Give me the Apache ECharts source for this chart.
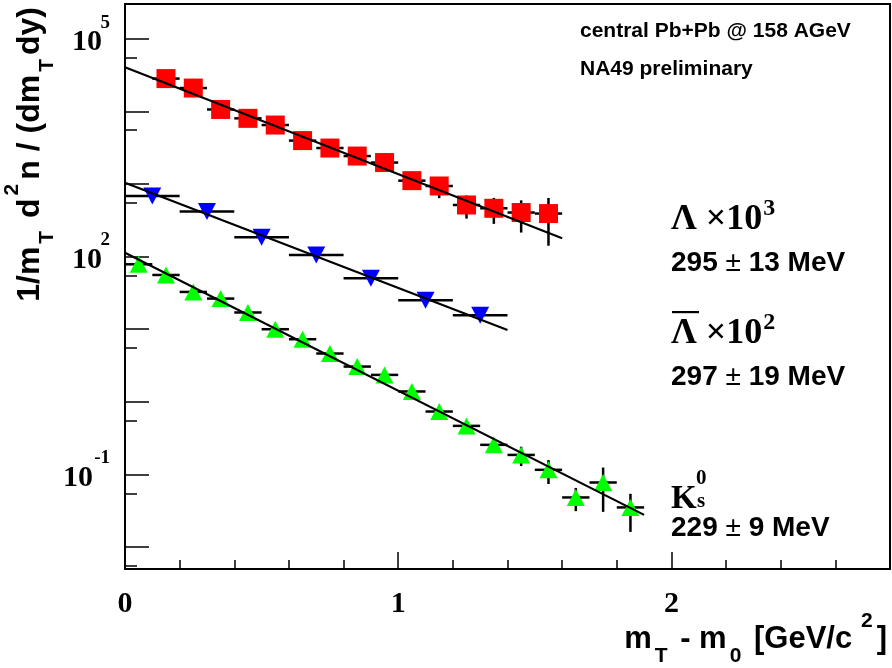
<!DOCTYPE html>
<html>
<head>
<meta charset="utf-8">
<title>NA49 strange particle m_T spectra</title>
<script src="https://cdn.jsdelivr.net/npm/echarts@6.0.0/dist/echarts.min.js"></script>
<style>
  html, body { margin: 0; padding: 0; background: #fff; }
  #chart { width: 892px; height: 668px; }
</style>
</head>
<body>
<div id="chart"></div>
<script>
// m_T - m_0 bin centres [GeV/c^2] and yields
const lambdaX = [0.15, 0.25, 0.35, 0.45, 0.55, 0.65, 0.75, 0.85, 0.95, 1.05, 1.15, 1.25, 1.35, 1.45, 1.55];
const lambdaY = [28200, 20900, 10600, 8000, 6470, 3950, 3120, 2420, 1970, 1110, 937, 513, 462, 404, 391];
const lambdaErr = [1000, 800, 450, 350, 300, 200, 180, 160, 150, 200, 300, 180, 180, 190, 250];
const lambdaHalfBin = 0.05;

const antiX = [0.1, 0.3, 0.5, 0.7, 0.9, 1.1, 1.3];
const antiY = [682, 416, 185, 105, 50.3, 25.1, 15.6];
const antiErr = [40, 25, 11, 7, 4, 2.2, 1.6];
const antiHalfBin = 0.1;

const k0X = [0.05, 0.15, 0.25, 0.35, 0.45, 0.55, 0.65, 0.75, 0.85, 0.95, 1.05, 1.15, 1.25, 1.35, 1.45, 1.55, 1.65, 1.75, 1.85];
const k0Y = [78.3, 55.8, 32.6, 26.4, 17.0, 10.0, 7.28, 4.63, 3.06, 2.35, 1.39, 0.736, 0.467, 0.256, 0.186, 0.116, 0.0483, 0.0776, 0.0352];
const k0Err = [3, 2, 1.2, 1, 0.7, 0.45, 0.35, 0.25, 0.18, 0.15, 0.1, 0.07, 0.06, 0.045, 0.055, 0.042, 0.017, 0.047, 0.019];
const k0HalfBin = 0.05;

// exponential fits (straight lines on the log axis): end points
const lambdaFitX = [0, 1.6];
const lambdaFitY = [40500, 179];
const antiFitX = [0, 1.4];
const antiFitY = [1037, 9.75];
const k0FitX = [0, 1.9];
const k0FitY = [112.8, 0.0278];

const xMin = 0, xMax = 2.8;
const yMin = 0.005, yMax = 3e5;

const SANS = '"Liberation Sans", Arial, sans-serif';
const SERIF = '"Liberation Serif", "Times New Roman", serif';

const chart = echarts.init(document.getElementById('chart'));

function points(xs, ys) {
  return xs.map((x, i) => [x, ys[i]]);
}
function bars(xs, ys, errs, half) {
  return xs.map((x, i) => [x, ys[i], half, errs[i]]);
}

// horizontal bin width + vertical stat. error
function renderErr(params, api) {
  const x = api.value(0), y = api.value(1);
  const dx = api.value(2), dy = api.value(3);
  const l = api.coord([x - dx, y]);
  const r = api.coord([x + dx, y]);
  const t = api.coord([x, y + dy]);
  const b = api.coord([x, Math.max(y - dy, yMin)]);
  const style = { stroke: '#000', lineWidth: 2.5 };
  return {
    type: 'group',
    children: [
      { type: 'line', shape: { x1: l[0], y1: l[1], x2: r[0], y2: r[1] }, style: style },
      { type: 'line', shape: { x1: t[0], y1: t[1], x2: b[0], y2: b[1] }, style: style }
    ]
  };
}

// rich styles for titles with sub/superscripts
function titleRich(size) {
  return {
    a: { fontFamily: SANS, fontWeight: 'bold', fontSize: size, lineHeight: 56, fill: '#000', verticalAlign: 'middle' },
    sub: { fontFamily: SANS, fontWeight: 'bold', fontSize: 21, fill: '#000', verticalAlign: 'bottom', padding: [0, 4, 0, 3] },
    sup: { fontFamily: SANS, fontWeight: 'bold', fontSize: 21, fill: '#000', verticalAlign: 'top', padding: [0, 4, 0, 3] }
  };
}
function symbolRich() {
  return {
    g: { fontFamily: SERIF, fontWeight: 'bold', fontSize: 36, lineHeight: 41, fill: '#000', verticalAlign: 'bottom' },
    sup: { fontFamily: SERIF, fontWeight: 'bold', fontSize: 24, fill: '#000', verticalAlign: 'top', padding: [0, 0, 0, 1] }
  };
}
function tempRich() {
  return {
    a: { fontFamily: SANS, fontWeight: 'bold', fontSize: 28, fill: '#000' },
    pm: { fontFamily: SANS, fontWeight: 'normal', fontSize: 28, fill: '#000' }
  };
}

const gridBox = { left: 125, right: 2, top: 4, bottom: 99 };

chart.setOption({
  animation: false,
  backgroundColor: '#fff',
  grid: [
    Object.assign({ show: true, borderColor: '#000', borderWidth: 2 }, gridBox),
    Object.assign({ show: false }, gridBox)
  ],
  xAxis: [
    {
      type: 'value', gridIndex: 0, min: xMin, max: xMax, interval: 0.2,
      axisLine: { lineStyle: { color: '#000', width: 2 } },
      axisTick: { inside: true, length: 9, lineStyle: { color: '#000', width: 1.5 } },
      axisLabel: { show: false },
      splitLine: { show: false }
    },
    {
      // long ticks + labels at integers
      type: 'value', gridIndex: 1, min: xMin, max: xMax, interval: 1,
      axisLine: { show: false },
      axisTick: { inside: true, length: 17, lineStyle: { color: '#000', width: 1.5 } },
      axisLabel: {
        margin: 20, showMaxLabel: false,
        fontFamily: SERIF, fontWeight: 'bold', fontSize: 30, color: '#000'
      },
      splitLine: { show: false }
    }
  ],
  yAxis: [
    {
      type: 'log', gridIndex: 0, min: yMin, max: yMax, logBase: 10,
      axisLine: { lineStyle: { color: '#000', width: 2 } },
      axisTick: { inside: true, length: 24, lineStyle: { color: '#000', width: 1.5 } },
      minorTick: { show: true, splitNumber: 2, length: 12, lineStyle: { color: '#000', width: 1.5 } },
      axisLabel: {
        margin: 15, showMinLabel: false, showMaxLabel: false,
        formatter: function (v) {
          const lg = Math.log10(v);
          const e = Math.round(lg);
          if (Math.abs(lg - e) > 1e-6) return '';
          if (((e % 3) + 3) % 3 !== 2) return '';
          // exponent on its own short line, right-aligned above the base
          return '{s|' + e + '}\n{' + (String(e).length > 1 ? 'c' : 'b') + '|10}';
        },
        rich: {
          s: { fontFamily: SERIF, fontWeight: 'bold', fontSize: 19, lineHeight: 8, color: '#000', align: 'right' },
          b: { fontFamily: SERIF, fontWeight: 'bold', fontSize: 30, lineHeight: 32, color: '#000', align: 'right', padding: [0, 8, 0, 0] },
          c: { fontFamily: SERIF, fontWeight: 'bold', fontSize: 30, lineHeight: 32, color: '#000', align: 'right', padding: [0, 17, 0, 0] }
        }
      },
      splitLine: { show: false }
    },
    { type: 'value', gridIndex: 1, show: false }
  ],
  series: [
    { name: 'Lambda x10^3 errors', type: 'custom', renderItem: renderErr, data: bars(lambdaX, lambdaY, lambdaErr, lambdaHalfBin), z: 2, silent: true },
    { name: 'anti-Lambda x10^2 errors', type: 'custom', renderItem: renderErr, data: bars(antiX, antiY, antiErr, antiHalfBin), z: 2, silent: true },
    { name: 'K0s errors', type: 'custom', renderItem: renderErr, data: bars(k0X, k0Y, k0Err, k0HalfBin), z: 2, silent: true },
    {
      name: 'Lambda x10^3', type: 'scatter', symbol: 'rect', symbolSize: 19,
      itemStyle: { color: '#ff0000', opacity: 1 }, data: points(lambdaX, lambdaY), z: 3
    },
    {
      name: 'anti-Lambda x10^2', type: 'scatter', symbol: 'triangle', symbolRotate: 180, symbolSize: [18, 17],
      itemStyle: { color: '#0000ff', opacity: 1 }, data: points(antiX, antiY), z: 3
    },
    {
      name: 'K0s', type: 'scatter', symbol: 'triangle', symbolSize: [18, 17],
      itemStyle: { color: '#00ff00', opacity: 1 }, data: points(k0X, k0Y), z: 3
    },
    {
      name: 'Lambda fit', type: 'line', data: points(lambdaFitX, lambdaFitY), showSymbol: false,
      lineStyle: { color: '#000', width: 2.2 }, z: 4, silent: true
    },
    {
      name: 'anti-Lambda fit', type: 'line', data: points(antiFitX, antiFitY), showSymbol: false,
      lineStyle: { color: '#000', width: 2.2 }, z: 4, silent: true
    },
    {
      name: 'K0s fit', type: 'line', data: points(k0FitX, k0FitY), showSymbol: false,
      lineStyle: { color: '#000', width: 2.2 }, z: 4, silent: true
    }
  ],
  graphic: [
    {
      // y axis title
      type: 'text', x: 30, y: 7, rotation: Math.PI / 2,
      style: {
        text: '{a|1/m}{sub|T}{a| d}{sup|2}{a|n / (dm}{sub|T}{a|dy)}',
        align: 'right', verticalAlign: 'middle',
        rich: titleRich(32)
      }
    },
    {
      // x axis title
      type: 'text', x: 887, y: 639,
      style: {
        text: '{a|m}{sub|T}{a| - m}{sub|0}{a| [GeV/c}{sup| 2}{a|]}',
        align: 'right', verticalAlign: 'middle',
        rich: titleRich(31)
      }
    },
    {
      type: 'text', x: 580, y: 31,
      style: { text: 'central Pb+Pb @ 158 AGeV', font: 'bold 21px ' + SANS, fill: '#000', verticalAlign: 'middle' }
    },
    {
      type: 'text', x: 580, y: 69,
      style: { text: 'NA49 preliminary', font: 'bold 21px ' + SANS, fill: '#000', verticalAlign: 'middle' }
    },
    {
      type: 'text', x: 671, y: 217,
      style: { text: '{g|\u039B \u00D710}{sup|3}', verticalAlign: 'middle', rich: symbolRich() }
    },
    {
      type: 'text', x: 671, y: 263,
      style: { text: '{a|295 }{pm|\u00B1}{a| 13 MeV}', verticalAlign: 'middle', rich: tempRich() }
    },
    {
      // bar over the anti-Lambda
      type: 'rect', shape: { x: 672, y: 311, width: 27, height: 2.2 },
      style: { fill: '#000' }
    },
    {
      type: 'text', x: 671, y: 331,
      style: { text: '{g|\u039B \u00D710}{sup|2}', verticalAlign: 'middle', rich: symbolRich() }
    },
    {
      type: 'text', x: 671, y: 377,
      style: { text: '{a|297 }{pm|\u00B1}{a| 19 MeV}', verticalAlign: 'middle', rich: tempRich() }
    },
    {
      type: 'text', x: 671, y: 499,
      style: { text: 'K', font: 'bold 33px ' + SERIF, fill: '#000', verticalAlign: 'middle' }
    },
    {
      type: 'text', x: 696, y: 479,
      style: { text: '0', font: 'bold 21px ' + SERIF, fill: '#000', verticalAlign: 'middle' }
    },
    {
      type: 'text', x: 697, y: 502,
      style: { text: 's', font: 'bold 21px ' + SERIF, fill: '#000', verticalAlign: 'middle' }
    },
    {
      type: 'text', x: 671, y: 528,
      style: { text: '{a|229 }{pm|\u00B1}{a| 9 MeV}', verticalAlign: 'middle', rich: tempRich() }
    }
  ]
});
</script>
</body>
</html>
